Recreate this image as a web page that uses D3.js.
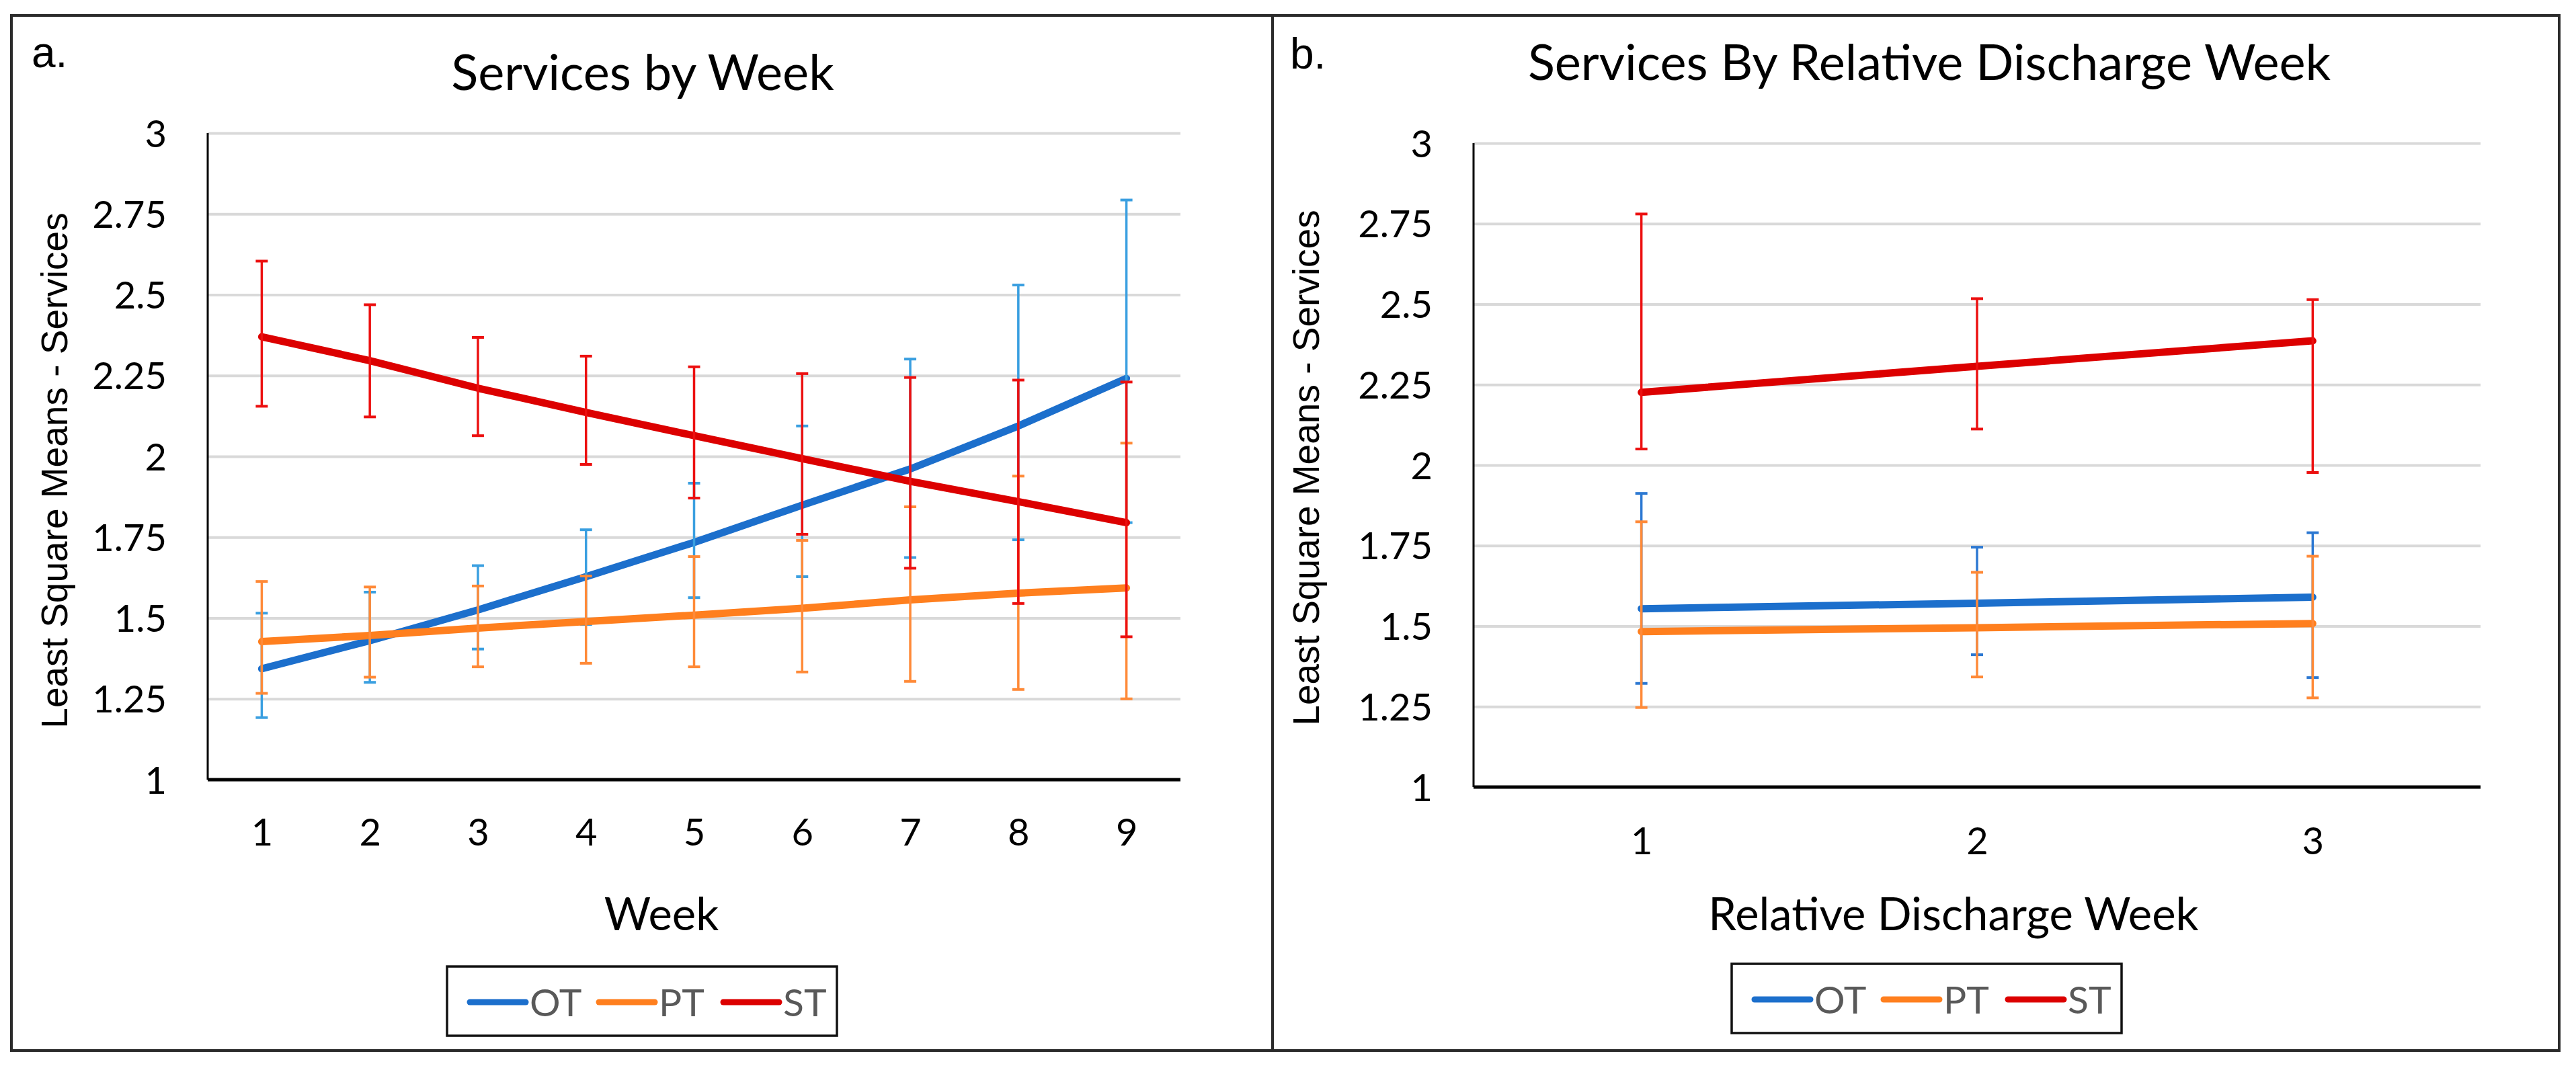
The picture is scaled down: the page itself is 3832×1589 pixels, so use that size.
<!DOCTYPE html>
<html>
<head>
<meta charset="utf-8">
<script src="https://cdn.jsdelivr.net/npm/d3@7"></script>
<style>
  body { margin: 0; background: #fff; }
  svg { display: block; }
</style>
</head>
<body>
<svg id="chart" width="3832" height="1589"></svg>
<script>
// ---- data: panel a (by week) ----
const weeksA = ['1', '2', '3', '4', '5', '6', '7', '8', '9'];
const otMeanA  = [1.343, 1.430, 1.525, 1.628, 1.734, 1.849, 1.961, 2.094, 2.241];
const otUpperA = [1.515, 1.580, 1.662, 1.773, 1.917, 2.094, 2.301, 2.530, 2.793];
const otLowerA = [1.192, 1.301, 1.404, 1.480, 1.563, 1.628, 1.687, 1.742, 1.795];
const ptMeanA  = [1.427, 1.446, 1.469, 1.489, 1.509, 1.530, 1.556, 1.577, 1.593];
const ptUpperA = [1.613, 1.596, 1.599, 1.630, 1.690, 1.740, 1.844, 1.939, 2.041];
const ptLowerA = [1.267, 1.317, 1.349, 1.360, 1.349, 1.333, 1.304, 1.279, 1.250];
const stMeanA  = [2.370, 2.296, 2.211, 2.136, 2.064, 1.993, 1.923, 1.860, 1.795];
const stUpperA = [2.604, 2.469, 2.368, 2.310, 2.277, 2.256, 2.244, 2.236, 2.230];
const stLowerA = [2.155, 2.122, 2.064, 1.975, 1.871, 1.759, 1.654, 1.545, 1.442];

// ---- data: panel b (relative discharge week) ----
const weeksB = ['1', '2', '3'];
const otMeanB  = [1.554, 1.571, 1.590];
const otUpperB = [1.912, 1.745, 1.790];
const otLowerB = [1.322, 1.411, 1.340];
const ptMeanB  = [1.483, 1.495, 1.508];
const ptUpperB = [1.824, 1.667, 1.717];
const ptLowerB = [1.247, 1.342, 1.277];
const stMeanB  = [2.226, 2.307, 2.386];
const stUpperB = [2.780, 2.517, 2.514];
const stLowerB = [2.050, 2.112, 1.977];

const yTicks = [1, 1.25, 1.5, 1.75, 2, 2.25, 2.5, 2.75, 3];
const seriesNames = ['OT', 'PT', 'ST'];
const lineColors = {OT: '#1c6fcc', PT: '#ff7f1e', ST: '#dc0000'};

const svg = d3.select('#chart');
const sansFont = '"Lato", "Carlito", sans-serif';

function drawPanel(p) {
    const g = svg.append('g');

    // frame
    g.append('rect')
        .attr('x', p.frame[0]).attr('y', p.frame[1])
        .attr('width', p.frame[2]).attr('height', p.frame[3])
        .attr('fill', 'none').attr('stroke', '#2b2b2b').attr('stroke-width', 4);

    const x = d3.scalePoint().domain(p.cats).range([p.x0, p.x1]).padding(0.5);
    const y = d3.scaleLinear().domain([1, 3]).range([p.yBottom, p.yTop]);

    // gridlines
    g.append('g')
        .attr('transform', `translate(${p.x0},0)`)
        .call(d3.axisLeft(y).tickValues(yTicks).tickSize(-(p.x1 - p.x0)).tickFormat(''))
        .call(a => a.select('.domain').remove())
        .call(a => a.selectAll('line').attr('stroke', '#d9d9d9').attr('stroke-width', 4));

    // y tick labels
    g.append('g')
        .attr('transform', `translate(${p.x0 - 61},0)`)
        .call(d3.axisLeft(y).tickValues(yTicks).tickSize(0).tickPadding(0).tickFormat(d3.format('')))
        .call(a => a.select('.domain').remove())
        .call(a => a.selectAll('text')
            .attr('font-family', sansFont).attr('font-size', 56).attr('fill', '#000')
            .attr('dy', '0.36em'));

    // y axis line
    g.append('line')
        .attr('x1', p.x0).attr('x2', p.x0)
        .attr('y1', p.yTop).attr('y2', p.yBottom)
        .attr('stroke', '#000').attr('stroke-width', 3);

    // x axis
    g.append('g')
        .attr('transform', `translate(0,${p.yBottom})`)
        .call(d3.axisBottom(x).tickSize(0).tickPadding(p.xTickPad))
        .call(a => a.select('.domain').attr('stroke', '#000').attr('stroke-width', 5)
            .attr('d', `M${p.x0},0H${p.x1}`))
        .call(a => a.selectAll('text')
            .attr('font-family', sansFont).attr('font-size', 56).attr('fill', '#000'));

    // series: line then error bars
    p.series.forEach(s => {
        const pts = p.cats.map((c, i) => ({c: c, m: s.mean[i], hi: s.upper[i], lo: s.lower[i]}));
        g.append('path')
            .datum(pts)
            .attr('fill', 'none')
            .attr('stroke', lineColors[s.name])
            .attr('stroke-width', 11)
            .attr('stroke-linejoin', 'round')
            .attr('stroke-linecap', 'round')
            .attr('d', d3.line().x(d => x(d.c)).y(d => y(d.m)));

        const eb = g.append('g').attr('stroke', s.errColor).attr('stroke-width', 3.5);
        eb.selectAll('.bar').data(pts).enter().append('line')
            .attr('x1', d => x(d.c)).attr('x2', d => x(d.c))
            .attr('y1', d => y(d.hi)).attr('y2', d => y(d.lo));
        ['hi', 'lo'].forEach(k => {
            eb.selectAll('.cap-' + k).data(pts).enter().append('line')
                .attr('x1', d => x(d.c) - 9).attr('x2', d => x(d.c) + 9)
                .attr('y1', d => y(d[k])).attr('y2', d => y(d[k]))
                .attr('stroke-width', 4);
        });
    });

    // titles
    g.append('text')
        .attr('x', p.titleX).attr('y', p.titleY)
        .attr('text-anchor', 'middle')
        .attr('font-family', sansFont).attr('font-size', 74)
        .text(p.title);

    g.append('text')
        .attr('x', p.letterX).attr('y', p.letterY)
        .attr('font-family', '"Liberation Sans", Arial, sans-serif').attr('font-size', 64)
        .text(p.letter);

    g.append('text')
        .attr('x', p.xTitleX).attr('y', p.xTitleY)
        .attr('text-anchor', 'middle')
        .attr('font-family', sansFont).attr('font-size', 67)
        .text(p.xTitle);

    g.append('text')
        .attr('transform', `translate(${p.yTitleX},${p.yTitleY}) rotate(-90)`)
        .attr('text-anchor', 'middle')
        .attr('font-family', '"Liberation Sans", Arial, sans-serif').attr('font-size', 55)
        .text('Least Square Means - Services');

    // legend
    const lg = g.append('g').attr('transform', `translate(${p.legend[0]},${p.legend[1]})`);
    lg.append('rect')
        .attr('width', 580).attr('height', 103)
        .attr('fill', '#fff').attr('stroke', '#111').attr('stroke-width', 3.5);
    const itemX = [34, 226, 411];
    seriesNames.forEach((n, i) => {
        lg.append('line')
            .attr('x1', itemX[i]).attr('x2', itemX[i] + 83)
            .attr('y1', 53).attr('y2', 53)
            .attr('stroke', lineColors[n]).attr('stroke-width', 9)
            .attr('stroke-linecap', 'round');
        lg.append('text')
            .attr('x', itemX[i] + 89).attr('y', 74)
            .attr('font-family', sansFont).attr('font-size', 57)
            .attr('fill', '#595959')
            .text(n);
    });
}

drawPanel({
    frame: [17, 23, 1876, 1540],
    cats: weeksA,
    x0: 309, x1: 1756, yTop: 198, yBottom: 1160,
    xTickPad: 58,
    series: [
        {name: 'OT', mean: otMeanA, upper: otUpperA, lower: otLowerA, errColor: '#3a9fe0'},
        {name: 'PT', mean: ptMeanA, upper: ptUpperA, lower: ptLowerA, errColor: '#ff8a38'},
        {name: 'ST', mean: stMeanA, upper: stUpperA, lower: stLowerA, errColor: '#ec1010'}
    ],
    title: 'Services by Week', titleX: 956, titleY: 134,
    letter: 'a.', letterX: 47, letterY: 100,
    xTitle: 'Week', xTitleX: 984, xTitleY: 1384,
    yTitleX: 100, yTitleY: 700,
    legend: [665, 1438]
});

drawPanel({
    frame: [1893, 23, 1914, 1540],
    cats: weeksB,
    x0: 2192, x1: 3690, yTop: 213, yBottom: 1171,
    xTickPad: 60,
    series: [
        {name: 'OT', mean: otMeanB, upper: otUpperB, lower: otLowerB, errColor: '#2c78d2'},
        {name: 'PT', mean: ptMeanB, upper: ptUpperB, lower: ptLowerB, errColor: '#ff8a38'},
        {name: 'ST', mean: stMeanB, upper: stUpperB, lower: stLowerB, errColor: '#ec1010'}
    ],
    title: 'Services By Relative Discharge Week', titleX: 2870, titleY: 119,
    letter: 'b.', letterX: 1919, letterY: 102,
    xTitleX: 2906, xTitleY: 1384, xTitle: 'Relative Discharge Week',
    yTitleX: 1962, yTitleY: 696,
    legend: [2576, 1434]
});
</script>
</body>
</html>
